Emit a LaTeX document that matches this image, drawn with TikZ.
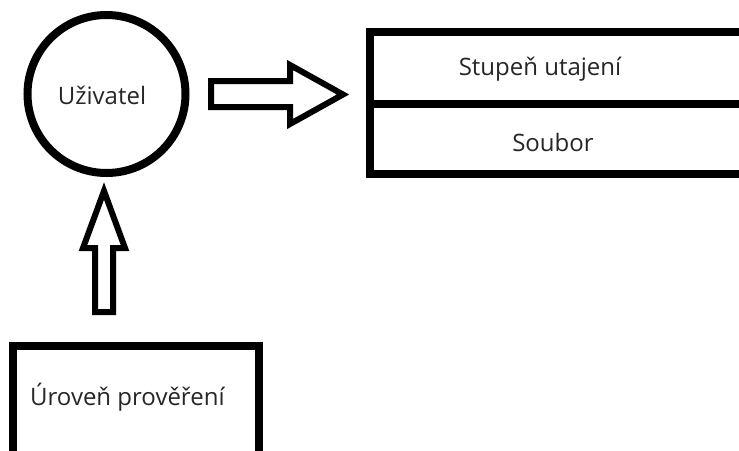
\documentclass[tikz,border=0pt]{standalone}
\usepackage{fontspec}
\setmainfont{Open Sans}
\begin{document}
\begin{tikzpicture}[x=1pt,y=-1pt,
  thickline/.style={line width=8pt,draw=black},
  arrowline/.style={line width=6pt,draw=black,fill=white,line join=miter},
  lbl/.style={font=\fontsize{24}{28}\selectfont,text=black!85,inner sep=0pt}]
\clip (0,0) rectangle (739,450);
\useasboundingbox (0,0) rectangle (739,450);
% user circle
\node[circle,thickline,minimum size=158pt,inner sep=0pt] (user) at (106.5,94) {};
\node[lbl] (userlbl) at (102,95) {Uživatel};
% table
\draw[thickline] (760,32) -- (370,32) -- (370,174) -- (760,174);
\draw[thickline] (370,104) -- (760,104);
\coordinate (tab) at (370,104);
\node[lbl] (stupen) at (540,69) {Stupeň utajení};
\node[lbl] (soubor) at (553,142) {Soubor};
% clearance box
\draw[thickline] (13,470) -- (13,346) -- (259,346) -- (259,470);
\node[lbl,anchor=west] (uroven) at (30,397) {Úroveň prověření};
% right block arrow
\draw[arrowline] (211,81) -- (290,81) -- (290,65) -- (343,94.5) -- (290,124) -- (290,107) -- (211,107) -- cycle;
% up block arrow
\draw[arrowline] (95,312) -- (95,248) -- (83,248) -- (104,191) -- (125,248) -- (113,248) -- (113,312) -- cycle;
\end{tikzpicture}
\end{document}
